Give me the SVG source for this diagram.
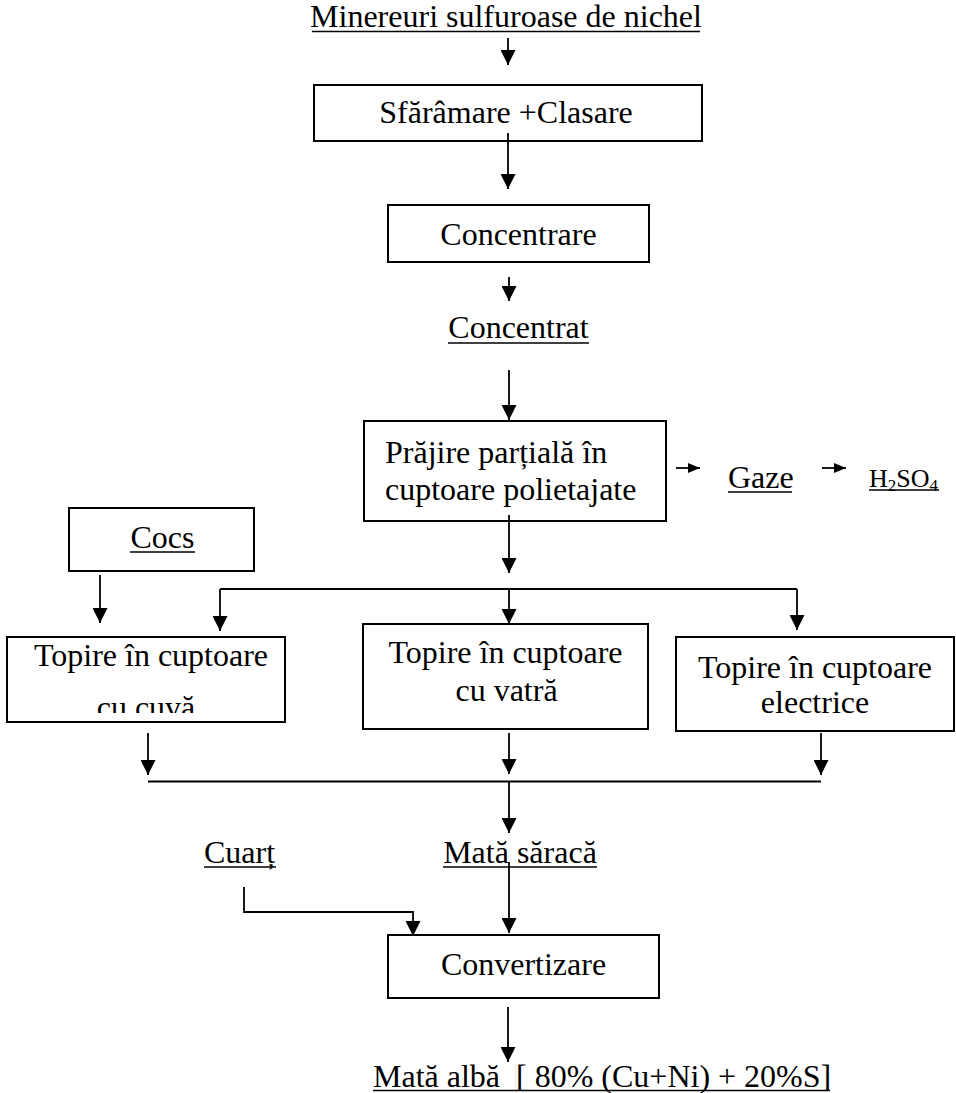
<svg xmlns="http://www.w3.org/2000/svg" width="956" height="1093" viewBox="0 0 956 1093">
<style>
text{font-family:"Liberation Serif","Times New Roman",serif;font-size:32px;fill:#000}
.c{text-anchor:middle}
.box{fill:#fff;stroke:#000;stroke-width:2}
.ln{fill:none;stroke:#000;stroke-width:1.8}
.ul{stroke:#000;stroke-width:1.6}
.ar{fill:none;stroke:#000;stroke-width:1.8;marker-end:url(#ah)}
.as{fill:none;stroke:#000;stroke-width:1.8;marker-end:url(#as)}
.sm{font-size:26px}
.sub{font-size:17px}
</style>
<defs>
<marker id="ah" viewBox="0 0 15 15" refX="15" refY="7.5" markerWidth="15" markerHeight="15" markerUnits="userSpaceOnUse" orient="auto"><path d="M0,0 L15,7.5 L0,15 z" fill="#000"/></marker>
<marker id="as" viewBox="0 0 12 10" refX="12" refY="5" markerWidth="12" markerHeight="10" markerUnits="userSpaceOnUse" orient="auto"><path d="M0,0 L12,5 L0,10 z" fill="#000"/></marker>
<clipPath id="clipL"><rect x="7" y="637" width="278" height="76"/></clipPath>
</defs>
<rect width="956" height="1093" fill="#fff"/>

<g id="n-minereuri">
<text class="c" x="506" y="27">Minereuri sulfuroase de nichel</text>
<line class="ul" x1="312" y1="31.5" x2="700" y2="31.5"/>
</g>
<g id="n-sfaramare">
<rect class="box" x="314" y="85" width="388" height="56"/>
<text class="c" x="506" y="123">Sfărâmare +Clasare</text>
</g>
<g id="n-concentrare">
<rect class="box" x="388" y="205" width="261" height="57"/>
<text class="c" x="518.5" y="245">Concentrare</text>
</g>
<g id="n-concentrat">
<text class="c" x="518.5" y="338">Concentrat</text>
<line class="ul" x1="448" y1="343" x2="589" y2="343"/>
</g>
<g id="n-prajire">
<rect class="box" x="364" y="421" width="302" height="100"/>
<text x="385" y="463">Prăjire parțială în</text>
<text x="385" y="500">cuptoare polietajate</text>
</g>
<g id="n-gaze">
<text x="728" y="488">Gaze</text>
<line class="ul" x1="728" y1="492" x2="792" y2="492"/>
</g>
<g id="n-h2so4">
<text class="sm" x="869" y="487">H<tspan class="sub" dy="4">2</tspan><tspan dy="-4">SO</tspan><tspan class="sub" dy="4">4</tspan></text>
<line class="ul" x1="869" y1="490" x2="939" y2="490"/>
</g>
<g id="n-cocs">
<rect class="box" x="69" y="508" width="185" height="63"/>
<text class="c" x="162.5" y="548">Cocs</text>
<line class="ul" x1="130" y1="552" x2="195" y2="552"/>
</g>
<g id="n-topire-cuva">
<rect class="box" x="7" y="637" width="278" height="85"/>
<g clip-path="url(#clipL)">
<text class="c" x="151" y="666">Topire în cuptoare</text>
<text class="c" x="146" y="718">cu cuvă</text>
</g>
</g>
<g id="n-topire-vatra">
<rect class="box" x="363" y="624" width="285" height="105"/>
<text class="c" x="505.5" y="663">Topire în cuptoare</text>
<text class="c" x="506.5" y="701">cu vatră</text>
</g>
<g id="n-topire-electrice">
<rect class="box" x="676" y="637" width="278" height="94"/>
<text class="c" x="815" y="678">Topire în cuptoare</text>
<text class="c" x="815" y="713">electrice</text>
</g>
<g id="n-cuart">
<text x="204" y="863">Cuarț</text>
<line class="ul" x1="204" y1="867" x2="276" y2="867"/>
</g>
<g id="n-mata-saraca">
<text class="c" x="520" y="863">Mată săracă</text>
<line class="ul" x1="443" y1="867" x2="597" y2="867"/>
</g>
<g id="n-convertizare">
<rect class="box" x="388" y="935" width="271" height="63"/>
<text class="c" x="523.5" y="975">Convertizare</text>
</g>
<g id="n-mata-alba">
<text x="373" y="1087" xml:space="preserve">Mată albă  [ 80% (Cu+Ni) + 20%S]</text>
<line class="ul" x1="373" y1="1090.5" x2="830" y2="1090.5"/>
</g>

<g id="connectors">
<path class="ar" d="M508,38 V65"/>
<path class="ar" d="M508,133 V189"/>
<path class="ar" d="M509,277 V301"/>
<path class="ar" d="M509,370 V420"/>
<path class="as" d="M676,468 H700"/>
<path class="as" d="M822,468 H846"/>
<path class="ar" d="M509,515 V573"/>
<path class="ln" d="M220,589 H797"/>
<path class="ar" d="M220,589 V631"/>
<path class="ar" d="M509,589 V624"/>
<path class="ar" d="M797,589 V630"/>
<path class="ar" d="M100,575 V623"/>
<path class="ar" d="M148,733 V775"/>
<path class="ar" d="M509,733 V774"/>
<path class="ar" d="M821,733 V775"/>
<path class="ln" d="M148,781.5 H821"/>
<path class="ar" d="M509,782 V833"/>
<path class="ar" d="M509,862 V933"/>
<path class="ar" d="M244,887 V912 H413 V936"/>
<path class="ar" d="M508,1007 V1062"/>
</g>
</svg>
